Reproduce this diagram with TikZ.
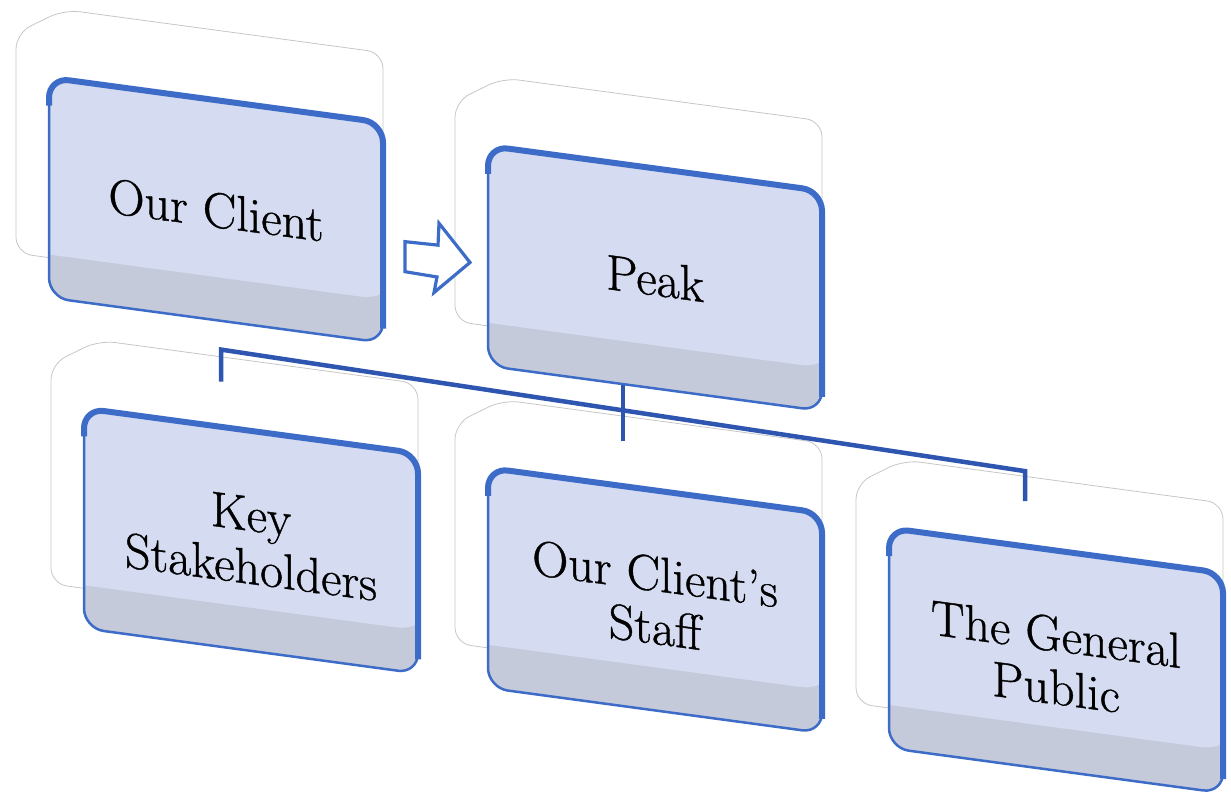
\documentclass[tikz,border=0pt]{standalone}
\usepackage{fontspec}
\newfontfamily\boxfont{Latin Modern Roman}[FakeBold=0.8]
\usetikzlibrary{calc}
\definecolor{boxfill}{RGB}{213,219,240}
\definecolor{bandfill}{RGB}{196,202,218}
\definecolor{boxline}{RGB}{60,108,200}
\definecolor{linkblue}{RGB}{46,86,176}
\definecolor{ghostline}{RGB}{198,198,198}
\tikzset{
  ghost/.style={draw=ghostline,line width=0.8pt,rounded corners=16pt},
  frontbox/.style={rectangle,rounded corners=20pt,draw=boxline,line width=2.5pt,
    minimum width=334pt,minimum height=220pt,inner sep=0pt,transform shape,
    align=center,font=\boxfont\fontsize{50}{53}\selectfont},
  rim/.style={draw=boxline,line width=6pt,rounded corners=20pt},
  link/.style={draw=linkblue,line width=4.5pt},
  blockarrow/.style={draw=boxline,line width=3.2pt,fill=white,line join=miter}
}
\begin{document}
\begin{tikzpicture}[x=1pt,y=-1pt]
  \useasboundingbox (0,0) rectangle (1231,797);
  \begin{scope}[yslant=-0.135]
  % ghost frames behind the boxes
  \foreach \cx/\cy in {216/181,655/190,251/507,655/512,1056/518}
    \draw[ghost] (\cx-200,\cy-150) -- (\cx-152,\cy-180) -- (\cx+167,\cy-180)
      -- (\cx+167,\cy+70) -- (\cx-200,\cy+70) -- cycle;

  % arrow from client to peak
  \draw[blockarrow] (405,187) -- (438,186) -- (439,164) -- (470,199)
    -- (434,234) -- (437,218) -- (405,217) -- cycle;

  % boxes
  \foreach \cx/\cy/\name/\txt in {216/181/client/{Our Client},
      655/190/peak/{Peak},
      251/507/keys/{Key\\Stakeholders},
      655/512/staff/{Our Client’s\\Staff},
      1056/518/public/{The General\\Public}} {
    \begin{scope}
      \clip[rounded corners=20pt] (\cx-167,\cy-110) rectangle (\cx+167,\cy+110);
      \fill[boxfill] (\cx-167,\cy-110) rectangle (\cx+167,\cy+110);
      \fill[bandfill] (\cx-170,\cy+67) -- (\cx+142,\cy+67)
        to[out=0,in=-140] (\cx+170,\cy+58) -- (\cx+170,\cy+113) -- (\cx-170,\cy+113) -- cycle;
    \end{scope}
    \node[frontbox] (\name) at (\cx,\cy) {\txt};
    \draw[rim] (\cx-167,\cy-82) -- (\cx-167,\cy-110) -- (\cx+167,\cy-110) -- (\cx+167,\cy+96);
  }

  % connectors
  \draw[link] ($(keys.north)+(-30,-44)$) -- ($(keys.north)+(-30,-76)$)
    -- ($(public.north)+(-31,-74)$) -- ($(public.north)+(-31,-44)$);
  \draw[link] ($(peak.south)+(-32,0)$) -- ($(staff.north)+(-32,-44)$);
  \end{scope}
\end{tikzpicture}
\end{document}
